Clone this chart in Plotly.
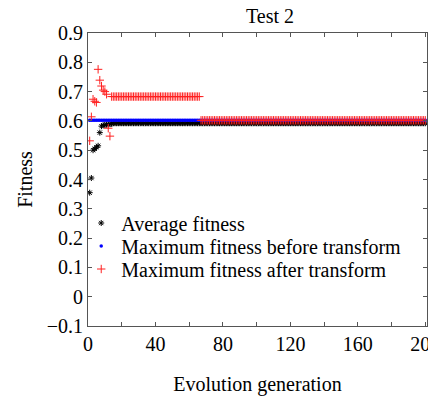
import plotly.graph_objects as go

# ---- data ----
avg_early_gen = [1, 2, 3, 4, 5, 6, 7, 8, 9, 10, 11, 12, 13, 14]
avg_early_val = [0.355, 0.405, 0.500, 0.505, 0.510, 0.515, 0.560, 0.582,
                 0.585, 0.586, 0.587, 0.588, 0.589, 0.590]
avg_plateau_val = 0.592          # generations 15..200

max_before_val = 0.602           # generations 1..200

after_early_gen = [1, 2, 3, 4, 5, 6, 7, 8, 9, 10, 11, 12, 13]
after_early_val = [0.532, 0.614, 0.674, 0.667, 0.663, 0.776, 0.739, 0.719,
                   0.705, 0.700, 0.691, 0.575, 0.548]
after_mid_val = 0.683            # generations 14..66
after_late_val = 0.602           # generations 67..200

last_gen = 200

series_names = ["Average fitness",
                "Maximum fitness before transform",
                "Maximum fitness after transform"]

x_tickvals = [0, 40, 80, 120, 160, 200]
y_tickvals = [-0.1, 0, 0.1, 0.2, 0.3, 0.4, 0.5, 0.6, 0.7, 0.8, 0.9]

# ---- build series ----
avg_gen = avg_early_gen + list(range(avg_early_gen[-1] + 1, last_gen + 1))
avg_val = avg_early_val + [avg_plateau_val] * (last_gen - avg_early_gen[-1])

before_gen = list(range(1, last_gen + 1))
before_val = [max_before_val] * len(before_gen)

mid_gens = list(range(after_early_gen[-1] + 1, 67))
late_gens = list(range(67, last_gen + 1))
after_gen = after_early_gen + mid_gens + late_gens
after_val = after_early_val + [after_mid_val] * len(mid_gens) + [after_late_val] * len(late_gens)

FONT = "Liberation Serif, Times New Roman, serif"
AXC = "#555555"
FS = 20

# figure is placed inside the page's default 8px body margin
W, H = 428, 395
ML, MR, MT, MB = 80, 9, 25, 77
PH = H - MT - MB

fig = go.Figure()
fig.add_trace(go.Scatter(
    x=avg_gen, y=avg_val, mode="markers", name=series_names[0],
    legend="legend",
    marker=dict(symbol="asterisk", size=5, color="black",
                line=dict(color="black", width=1)),
))
fig.add_trace(go.Scatter(
    x=before_gen, y=before_val, mode="markers", name=series_names[1],
    legend="legend2",
    marker=dict(symbol="circle", size=3.5, color="#0000ff",
                line=dict(width=0)),
))
fig.add_trace(go.Scatter(
    x=after_gen, y=after_val, mode="markers", name=series_names[2],
    legend="legend3",
    marker=dict(symbol="cross-thin", size=6, color="#ff2020",
                line=dict(color="#ff2020", width=1)),
))

def leg(center_px):
    return dict(x=-0.02, y=(H - MB - center_px) / PH, xanchor="left",
                yanchor="middle", bgcolor="rgba(0,0,0,0)", borderwidth=0,
                font=dict(family=FONT, size=FS, color="black"),
                itemsizing="trace")

fig.update_layout(
    width=W, height=H,
    margin=dict(l=ML, r=MR, t=MT, b=MB, pad=0, autoexpand=False),
    paper_bgcolor="white", plot_bgcolor="white",
    font=dict(family=FONT, size=FS, color="black"),
    title=dict(text="Test 2", x=0.537, xref="paper", xanchor="center",
               y=1 - 8 / H, yref="container", yanchor="middle",
               font=dict(family=FONT, size=FS, color="black")),
    showlegend=True,
    legend=leg(215), legend2=leg(238), legend3=leg(261),
)

fig.update_xaxes(
    range=[0, 201], tickmode="array", tickvals=x_tickvals,
    ticks="inside", ticklen=4, tickcolor=AXC, tickwidth=1,
    minor=dict(dtick=20, tick0=0, ticks="inside", ticklen=4, tickcolor=AXC),
    showline=True, linecolor=AXC, linewidth=1, mirror="ticks",
    showgrid=False, zeroline=False, ticklabeloverflow="allow",
    automargin=False,
    tickfont=dict(family=FONT, size=FS, color="black"),
    title=dict(text="Evolution generation", standoff=22,
               font=dict(family=FONT, size=FS, color="black")),
)
fig.update_yaxes(
    range=[-0.1, 0.9], tickmode="array", tickvals=y_tickvals,
    ticks="inside", ticklen=4, tickcolor=AXC, tickwidth=1,
    showline=True, linecolor=AXC, linewidth=1, mirror="ticks",
    showgrid=False, zeroline=False, automargin=False,
    tickfont=dict(family=FONT, size=FS, color="black"),
    title=dict(text="Fitness", standoff=8,
               font=dict(family=FONT, size=FS, color="black")),
)

fig.write_html("out.html")
